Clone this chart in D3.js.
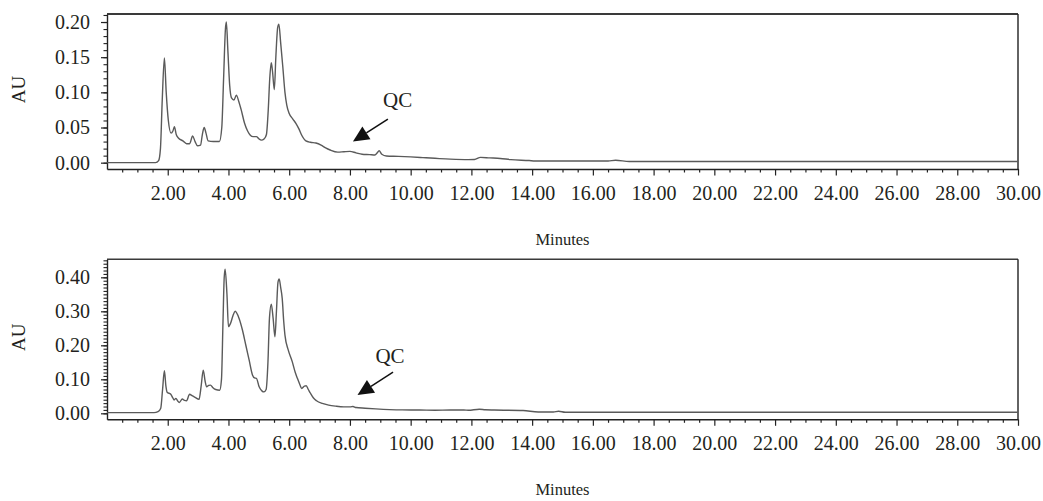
<!DOCTYPE html>
<html>
<head>
<meta charset="utf-8">
<script src="https://cdn.jsdelivr.net/npm/d3@7"></script>
<style>
  body { margin: 0; background: #fff; }
  text { font-family: "Liberation Serif", "Times New Roman", serif; fill: #231f20; }
</style>
</head>
<body>
<div id="chart"></div>
<script>
// chromatogram traces (minutes, AU)
var topTime = [0, 1.60, 1.70, 1.76, 1.82, 1.89, 1.95, 2.02, 2.11, 2.17, 2.22, 2.28, 2.35, 2.50, 2.62, 2.72,
  2.82, 2.90, 2.98, 3.08, 3.14, 3.20, 3.26, 3.33, 3.50, 3.70, 3.78, 3.84, 3.90, 3.93, 3.98, 4.04, 4.10,
  4.18, 4.26, 4.34, 4.42, 4.53, 4.63, 4.72, 4.81, 4.92, 5.00, 5.08, 5.18, 5.25, 5.31, 5.36, 5.41, 5.45,
  5.51, 5.56, 5.62, 5.66, 5.72, 5.79, 5.86, 5.92, 6.00, 6.12, 6.22, 6.32, 6.40, 6.55, 6.70, 6.88, 7.05,
  7.20, 7.35, 7.60, 7.80, 8.00, 8.20, 8.40, 8.65, 8.82, 8.90, 8.96, 9.05, 9.20, 9.60, 10.0, 10.4, 10.8,
  11.3, 11.9, 12.1, 12.3, 12.6, 12.95, 13.3, 13.9, 14.1, 16.5, 16.75, 17.2, 30];
var topAU = [0, 0, 0.003, 0.02, 0.09, 0.149, 0.10, 0.06, 0.042, 0.045, 0.051, 0.040, 0.035, 0.031, 0.027, 0.027,
  0.038, 0.030, 0.024, 0.025, 0.040, 0.050, 0.042, 0.031, 0.030, 0.030, 0.05, 0.12, 0.19, 0.200, 0.16, 0.11, 0.092,
  0.089, 0.096, 0.087, 0.075, 0.056, 0.045, 0.039, 0.037, 0.037, 0.034, 0.032, 0.034, 0.040, 0.075, 0.120, 0.142, 0.130,
  0.104, 0.150, 0.192, 0.197, 0.170, 0.136, 0.100, 0.082, 0.070, 0.062, 0.056, 0.048, 0.040, 0.031, 0.029, 0.028, 0.025,
  0.021, 0.018, 0.015, 0.0155, 0.016, 0.014, 0.012, 0.0115, 0.011, 0.014, 0.017, 0.012, 0.0095, 0.009, 0.0082, 0.0072, 0.0062,
  0.005, 0.0043, 0.0045, 0.0075, 0.0068, 0.006, 0.0043, 0.003, 0.0024, 0.0024, 0.0035, 0.0017, 0.0017];

var bottomTime = [0, 1.55, 1.68, 1.77, 1.83, 1.89, 1.94, 1.98, 2.10, 2.17, 2.21, 2.27, 2.33, 2.38, 2.48, 2.55,
  2.62, 2.72, 2.80, 2.90, 3.03, 3.10, 3.17, 3.23, 3.28, 3.35, 3.41, 3.48, 3.58, 3.71, 3.77, 3.82, 3.86, 3.89,
  3.95, 4.00, 4.07, 4.15, 4.22, 4.35, 4.46, 4.57, 4.68, 4.79, 4.86, 4.92, 5.01, 5.10, 5.17, 5.24, 5.30, 5.35,
  5.41, 5.47, 5.53, 5.58, 5.63, 5.67, 5.72, 5.77, 5.82, 5.86, 5.97, 6.10, 6.20, 6.27, 6.35, 6.41, 6.50, 6.56,
  6.63, 6.70, 6.80, 6.90, 7.09, 7.30, 7.53, 7.80, 8.02, 8.10, 8.20, 8.50, 8.85, 9.30, 9.72, 10.3, 10.8, 11.3,
  11.75, 11.9, 12.26, 12.45, 12.75, 13.7, 14.2, 14.7, 14.87, 15.09, 30];
var bottomAU = [0.002, 0.002, 0.005, 0.015, 0.07, 0.125, 0.08, 0.062, 0.056, 0.045, 0.039, 0.044, 0.036, 0.032, 0.042, 0.038,
  0.037, 0.056, 0.052, 0.047, 0.041, 0.08, 0.127, 0.095, 0.078, 0.082, 0.083, 0.076, 0.070, 0.068, 0.10, 0.27, 0.40, 0.424,
  0.35, 0.255, 0.265, 0.288, 0.300, 0.279, 0.245, 0.201, 0.157, 0.113, 0.104, 0.103, 0.078, 0.066, 0.063, 0.070, 0.150, 0.280,
  0.321, 0.280, 0.225, 0.300, 0.385, 0.395, 0.370, 0.338, 0.270, 0.230, 0.186, 0.152, 0.120, 0.103, 0.085, 0.073, 0.080, 0.081,
  0.070, 0.059, 0.045, 0.037, 0.029, 0.024, 0.021, 0.019, 0.019, 0.020, 0.017, 0.015, 0.013, 0.011, 0.010, 0.0097, 0.0088, 0.0097,
  0.0097, 0.0088, 0.0118, 0.0105, 0.0097, 0.0085, 0.004, 0.004, 0.006, 0.003, 0.003];

// axis settings
var xTicks = d3.range(2, 30.01, 2);
var topYTicks = [0, 0.05, 0.10, 0.15, 0.20];
var bottomYTicks = [0, 0.10, 0.20, 0.30, 0.40];
var xLabel = "Minutes";
var yLabel = "AU";
var noteText = "QC";

// QC arrow in data coords: [tipTime, tipAU, tailTime, tailAU, textTime, textAU]
var topNote = [8.10, 0.030, 9.25, 0.062, 9.57, 0.090];
var bottomNote = [8.25, 0.054, 9.42, 0.121, 9.32, 0.169];

var svgWidth = 1043;
var svgHeight = 501;

var svg = d3.select("#chart")
  .append("svg")
  .attr("width", svgWidth)
  .attr("height", svgHeight);

var plotLeft = 107;
var plotRight = 1018;

var xScale = d3.scaleLinear()
  .domain([0, 30])
  .range([plotLeft, plotRight]);

function drawPanel(times, values, cfg) {
  var yScale = d3.scaleLinear()
    .domain(cfg.domain)
    .range([cfg.bottom, cfg.top]);

  var g = svg.append("g");

  // frame: top and right
  g.append("line")
    .attr("x1", plotLeft).attr("x2", plotRight)
    .attr("y1", cfg.top).attr("y2", cfg.top)
    .attr("stroke", "#3a3a3a").attr("stroke-width", cfg.topStroke);
  g.append("line")
    .attr("x1", plotRight).attr("x2", plotRight)
    .attr("y1", cfg.top).attr("y2", cfg.bottom)
    .attr("stroke", "#222").attr("stroke-width", 1.4);

  // minor x ticks
  var minorX = d3.range(0.5, 30.01, 0.5).filter(function(t) { return t % 2 !== 0; });
  g.append("g")
    .attr("transform", `translate(0, ${cfg.bottom})`)
    .call(d3.axisBottom(xScale).tickValues(minorX).tickSize(3.5).tickFormat(""))
    .call(function(a) { a.select(".domain").remove(); })
    .selectAll("line").attr("stroke", "#222").attr("stroke-width", 1.2);

  // major x axis
  var xAxis = g.append("g")
    .attr("transform", `translate(0, ${cfg.bottom})`)
    .call(d3.axisBottom(xScale).tickValues(xTicks).tickSize(6.5).tickSizeOuter(0)
      .tickPadding(10).tickFormat(d3.format(".2f")));
  xAxis.select(".domain").attr("stroke", "#222").attr("stroke-width", 1.4);
  xAxis.selectAll("line").attr("stroke", "#222").attr("stroke-width", 1.2);
  xAxis.selectAll("text")
    .style("font-family", "Liberation Serif")
    .style("font-size", "20px")
    .attr("fill", "#231f20");

  // minor y ticks every 0.01
  var minorY = d3.range(0, Math.round(cfg.domain[1] * 100) + 1).map(function(i) { return i / 100; });
  g.append("g")
    .attr("transform", `translate(${plotLeft}, 0)`)
    .call(d3.axisLeft(yScale).tickValues(minorY).tickSize(3.5).tickFormat(""))
    .call(function(a) { a.select(".domain").remove(); })
    .selectAll("line").attr("stroke", "#222").attr("stroke-width", 1.1);

  // major y axis
  var yAxis = g.append("g")
    .attr("transform", `translate(${plotLeft}, 0)`)
    .call(d3.axisLeft(yScale).tickValues(cfg.yTicks).tickSize(6).tickSizeOuter(0)
      .tickPadding(11).tickFormat(d3.format(".2f")));
  yAxis.select(".domain").attr("stroke", "#222").attr("stroke-width", 1.4);
  yAxis.selectAll("line").attr("stroke", "#222").attr("stroke-width", 1.2);
  yAxis.selectAll("text")
    .style("font-family", "Liberation Serif")
    .style("font-size", "20px")
    .attr("fill", "#231f20");

  // trace
  var line = d3.line()
    .x(function(d, i) { return xScale(times[i]); })
    .y(function(d) { return yScale(d); })
    .curve(d3.curveMonotoneX);

  g.append("path")
    .datum(values)
    .attr("fill", "none")
    .attr("stroke", "#5a5a5a")
    .attr("stroke-width", 1.4)
    .attr("d", line);

  // axis titles
  g.append("text")
    .attr("x", (plotLeft + plotRight) / 2)
    .attr("y", cfg.bottom + 76)
    .attr("text-anchor", "middle")
    .style("font-size", "16.5px")
    .text(xLabel);

  g.append("text")
    .attr("transform", `translate(25, ${yScale((cfg.domain[0] + cfg.domain[1]) / 2) - 2}) rotate(-90)`)
    .attr("text-anchor", "middle")
    .style("font-size", "19px")
    .text(yLabel);

  // QC annotation
  var n = cfg.note;
  var tip = [xScale(n[0]), yScale(n[1])];
  var tail = [xScale(n[2]), yScale(n[3])];
  var ang = Math.atan2(tip[1] - tail[1], tip[0] - tail[0]);
  var headLen = 16, headHalf = 7.5;
  var bx = tip[0] - headLen * Math.cos(ang), by = tip[1] - headLen * Math.sin(ang);
  g.append("line")
    .attr("x1", tail[0]).attr("y1", tail[1])
    .attr("x2", bx).attr("y2", by)
    .attr("stroke", "#111").attr("stroke-width", 1.5);
  g.append("path")
    .attr("d", "M" + tip[0] + "," + tip[1] +
      "L" + (bx + headHalf * Math.sin(ang)) + "," + (by - headHalf * Math.cos(ang)) +
      "L" + (bx - headHalf * Math.sin(ang)) + "," + (by + headHalf * Math.cos(ang)) + "Z")
    .attr("fill", "#111");
  g.append("text")
    .attr("x", xScale(n[4]))
    .attr("y", yScale(n[5]))
    .attr("dy", "0.35em")
    .attr("text-anchor", "middle")
    .style("font-size", "21px")
    .text(noteText);
}

drawPanel(topTime, topAU, {
  top: 14, bottom: 169, domain: [-0.009, 0.2114], yTicks: topYTicks, note: topNote, topStroke: 2
});

drawPanel(bottomTime, bottomAU, {
  top: 259.3, bottom: 419.3, domain: [-0.0176, 0.453], yTicks: bottomYTicks, note: bottomNote, topStroke: 1.4
});
</script>
</body>
</html>
